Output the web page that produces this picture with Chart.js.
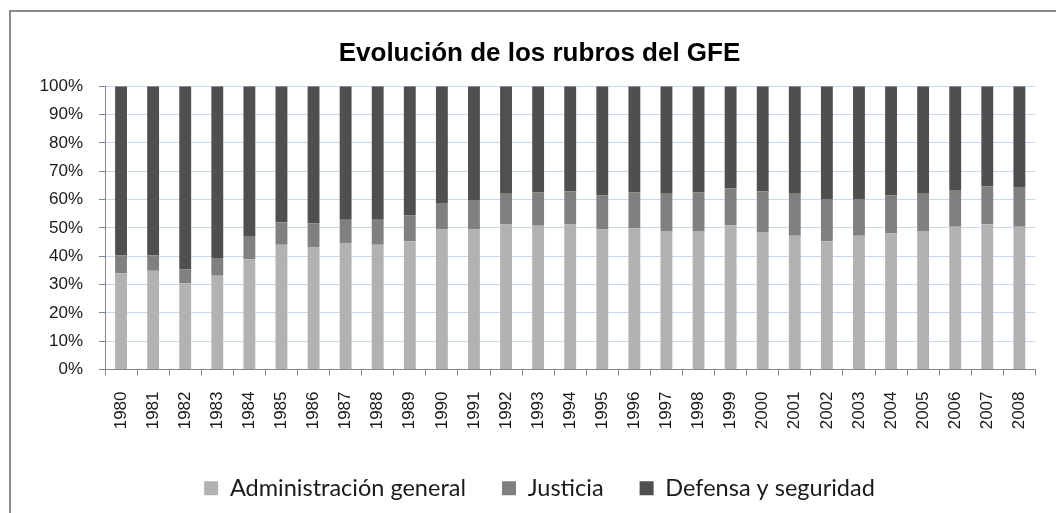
<!DOCTYPE html>
<html>
<head>
<meta charset="utf-8">
<script src="https://cdn.jsdelivr.net/npm/chart.js@4.4.1/dist/chart.umd.min.js"></script>
<style>
	html, body { margin: 0; padding: 0; background: #ffffff; }
	#wrap { position: relative; width: 1056px; height: 513px; overflow: hidden; }
	#frame {
		position: absolute; left: 9px; top: 10px; width: 1100px; height: 600px;
		border-left: 2px solid #8c8c8c; border-top: 2px solid #8c8c8c;
	}
	#chart { position: absolute; left: 0; top: 0; }
</style>
</head>
<body>
<div id="wrap">
	<div id="frame"></div>
	<canvas id="chart" width="1056" height="513"></canvas>
</div>
<script>
// Años
const years = ['1980', '1981', '1982', '1983', '1984', '1985', '1986', '1987', '1988', '1989',
	'1990', '1991', '1992', '1993', '1994', '1995', '1996', '1997', '1998', '1999',
	'2000', '2001', '2002', '2003', '2004', '2005', '2006', '2007', '2008'];

// Participación (%) de cada rubro
const administracion = [34.0, 34.9, 30.4, 33.1, 38.9, 44.0, 43.1, 44.5, 44.0, 45.3,
	49.4, 49.4, 51.2, 50.7, 51.2, 49.4, 49.9, 48.9, 48.9, 50.8,
	48.5, 47.2, 45.3, 47.2, 48.0, 48.9, 50.4, 51.3, 50.4];
const justicia = [6.2, 5.3, 4.9, 6.3, 8.2, 8.0, 8.4, 8.4, 8.9, 9.1,
	9.4, 10.4, 10.8, 11.8, 11.7, 12.1, 12.6, 13.1, 13.6, 13.1,
	14.4, 14.8, 14.9, 13.0, 13.5, 13.1, 13.0, 13.4, 14.0];
const defensa = [59.8, 59.8, 64.7, 60.6, 52.9, 48.0, 48.5, 47.1, 47.1, 45.6,
	41.2, 40.2, 38.0, 37.5, 37.1, 38.5, 37.5, 38.0, 37.5, 36.1,
	37.1, 38.0, 39.8, 39.8, 38.5, 38.0, 36.6, 35.3, 35.6];

const yTicks = [0, 10, 20, 30, 40, 50, 60, 70, 80, 90, 100];

const axisGray = '#868686';
const gridBlue = '#c6d9f0';
const tickFont = { family: '"Liberation Sans", Arial, sans-serif', size: 17 };

new Chart(document.getElementById('chart'), {
	type: 'bar',
	data: {
		labels: years,
		datasets: [
			{ label: 'Administración general', data: administracion, backgroundColor: '#b2b2b2' },
			{ label: 'Justicia', data: justicia, backgroundColor: '#808080' },
			{ label: 'Defensa y seguridad', data: defensa, backgroundColor: '#4f4f4f' }
		]
	},
	options: {
		responsive: false,
		animation: false,
		layout: { padding: { top: 0, left: 36, right: 13, bottom: 3 } },
		datasets: { bar: { barPercentage: 0.37, categoryPercentage: 1 } },
		plugins: {
			title: {
				display: true,
				text: 'Evolución de los rubros del GFE',
				color: '#000000',
				font: { family: '"Liberation Sans", Arial, sans-serif', size: 26, weight: 'bold', lineHeight: 1.2 },
				padding: { top: 38, bottom: 17 }
			},
			legend: {
				position: 'bottom',
				labels: {
					color: '#1a1a1a',
					boxWidth: 14,
					boxHeight: 14,
					padding: 36,
					font: { family: 'Lato, "Open Sans", sans-serif', size: 23.5 }
				}
			},
			tooltip: { enabled: false }
		},
		scales: {
			x: {
				stacked: true,
				afterFit: (scale) => { scale.height = 71; },
				grid: {
					offset: true,
					drawOnChartArea: false,
					tickLength: 6,
					tickColor: axisGray
				},
				border: { color: axisGray, width: 1 },
				ticks: {
					autoSkip: false,
					minRotation: 90,
					maxRotation: 90,
					padding: 16,
					color: '#1a1a1a',
					font: tickFont
				}
			},
			y: {
				stacked: true,
				min: 0,
				max: 100,
				afterFit: (scale) => { scale.width = 69; },
				afterBuildTicks: (scale) => { scale.ticks = yTicks.map(v => ({ value: v })); },
				grid: {
					color: gridBlue,
					tickLength: 6,
					tickColor: axisGray
				},
				border: { color: axisGray, width: 1 },
				ticks: {
					padding: 16,
					color: '#1a1a1a',
					font: tickFont,
					callback: (v) => v + '%'
				}
			}
		}
	}
});
</script>
</body>
</html>
